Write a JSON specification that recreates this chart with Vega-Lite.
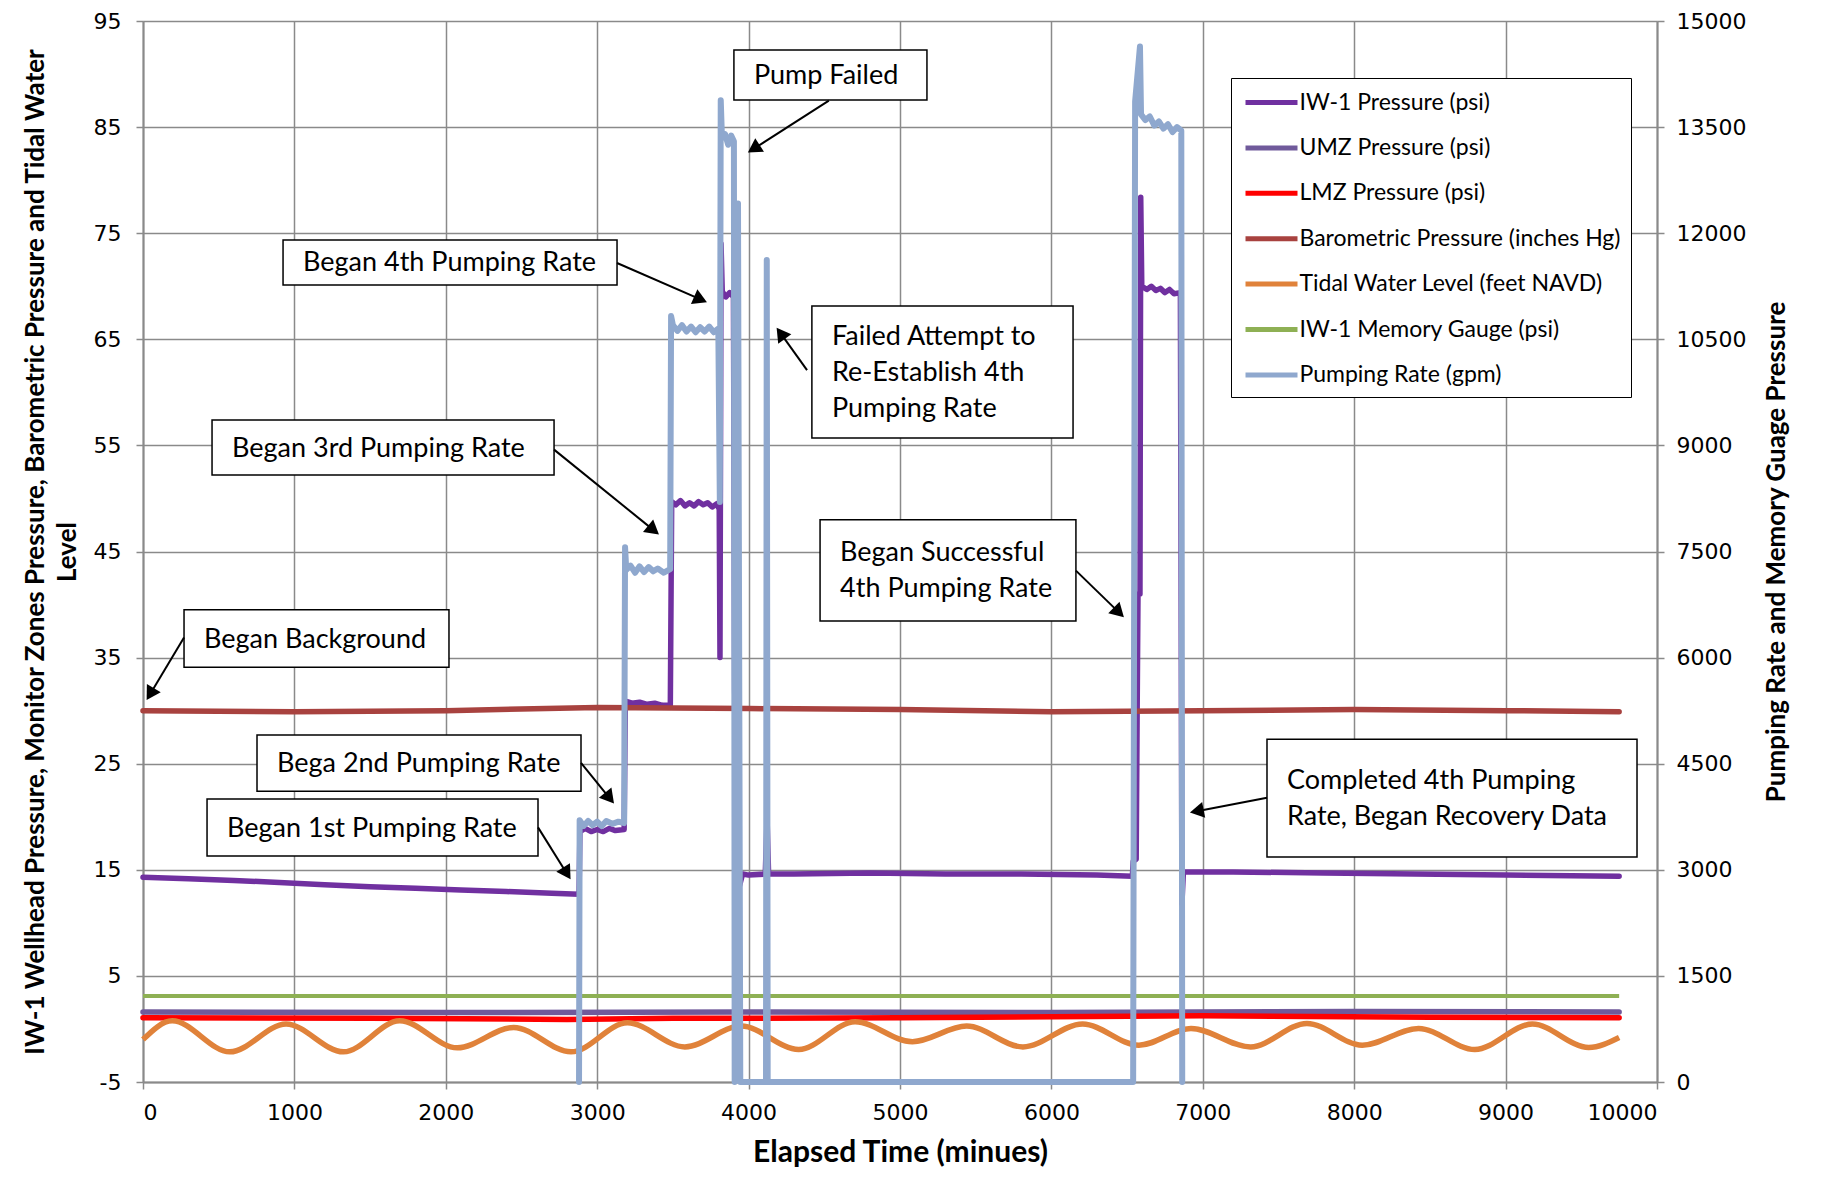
{
  "$schema": "https://vega.github.io/schema/vega-lite/v6.json",
  "width": 1514,
  "height": 1061,
  "autosize": {"type": "none"},
  "padding": {"left": 143, "top": 21, "right": 169, "bottom": 102},
  "background": "white",
  "config": {
    "view": {"stroke": null},
    "axis": {
      "gridColor": "#8a8a8a", "gridWidth": 1.5, "gridOpacity": 1,
      "domainColor": "#8a8a8a", "domainWidth": 2,
      "tickColor": "#8a8a8a", "tickSize": 7, "tickWidth": 1.5,
      "labelFont": "DejaVu Sans", "labelFontSize": 22, "labelColor": "black",
      "titleFont": "Lato", "titleFontWeight": "bold", "titleColor": "black"
    },
    "legend": {
      "orient": "none", "legendX": 1088, "legendY": 57,
      "title": null,
      "symbolType": "M-0.833,0L3.5,0", "symbolSize": 576, "symbolStrokeWidth": 5,
      "labelFont": "Lato", "labelFontSize": 23, "labelColor": "black", "labelOffset": 29.5, "labelLimit": 500,
      "rowPadding": 18.4, "padding": 10,
      "strokeColor": "black", "fillColor": "white"
    }
  },
  "datasets": {
    "left": [
      {"s": "IW-1 Pressure (psi)", "t": 0, "v": 14.3},
      {"s": "IW-1 Pressure (psi)", "t": 300, "v": 14.15},
      {"s": "IW-1 Pressure (psi)", "t": 600, "v": 14.0},
      {"s": "IW-1 Pressure (psi)", "t": 900, "v": 13.8},
      {"s": "IW-1 Pressure (psi)", "t": 1200, "v": 13.6},
      {"s": "IW-1 Pressure (psi)", "t": 1500, "v": 13.4},
      {"s": "IW-1 Pressure (psi)", "t": 1800, "v": 13.25},
      {"s": "IW-1 Pressure (psi)", "t": 2100, "v": 13.1},
      {"s": "IW-1 Pressure (psi)", "t": 2400, "v": 12.95},
      {"s": "IW-1 Pressure (psi)", "t": 2700, "v": 12.8},
      {"s": "IW-1 Pressure (psi)", "t": 2880, "v": 12.7},
      {"s": "IW-1 Pressure (psi)", "t": 2886, "v": 18.6},
      {"s": "IW-1 Pressure (psi)", "t": 2920, "v": 18.9},
      {"s": "IW-1 Pressure (psi)", "t": 2960, "v": 18.6},
      {"s": "IW-1 Pressure (psi)", "t": 3000, "v": 18.8},
      {"s": "IW-1 Pressure (psi)", "t": 3040, "v": 18.6},
      {"s": "IW-1 Pressure (psi)", "t": 3080, "v": 18.9},
      {"s": "IW-1 Pressure (psi)", "t": 3120, "v": 18.7},
      {"s": "IW-1 Pressure (psi)", "t": 3178, "v": 18.8},
      {"s": "IW-1 Pressure (psi)", "t": 3186, "v": 30.9},
      {"s": "IW-1 Pressure (psi)", "t": 3230, "v": 30.7},
      {"s": "IW-1 Pressure (psi)", "t": 3280, "v": 30.8},
      {"s": "IW-1 Pressure (psi)", "t": 3330, "v": 30.6},
      {"s": "IW-1 Pressure (psi)", "t": 3380, "v": 30.7},
      {"s": "IW-1 Pressure (psi)", "t": 3430, "v": 30.5},
      {"s": "IW-1 Pressure (psi)", "t": 3483, "v": 30.5},
      {"s": "IW-1 Pressure (psi)", "t": 3492, "v": 49.7},
      {"s": "IW-1 Pressure (psi)", "t": 3520, "v": 49.4},
      {"s": "IW-1 Pressure (psi)", "t": 3550, "v": 49.8},
      {"s": "IW-1 Pressure (psi)", "t": 3580, "v": 49.3},
      {"s": "IW-1 Pressure (psi)", "t": 3610, "v": 49.6},
      {"s": "IW-1 Pressure (psi)", "t": 3640, "v": 49.3},
      {"s": "IW-1 Pressure (psi)", "t": 3670, "v": 49.7},
      {"s": "IW-1 Pressure (psi)", "t": 3700, "v": 49.4},
      {"s": "IW-1 Pressure (psi)", "t": 3730, "v": 49.6},
      {"s": "IW-1 Pressure (psi)", "t": 3760, "v": 49.2},
      {"s": "IW-1 Pressure (psi)", "t": 3790, "v": 49.5},
      {"s": "IW-1 Pressure (psi)", "t": 3806, "v": 49.0},
      {"s": "IW-1 Pressure (psi)", "t": 3811, "v": 35.0},
      {"s": "IW-1 Pressure (psi)", "t": 3818, "v": 74.0},
      {"s": "IW-1 Pressure (psi)", "t": 3826, "v": 69.5},
      {"s": "IW-1 Pressure (psi)", "t": 3850, "v": 69.0},
      {"s": "IW-1 Pressure (psi)", "t": 3875, "v": 69.4},
      {"s": "IW-1 Pressure (psi)", "t": 3900, "v": 69.0},
      {"s": "IW-1 Pressure (psi)", "t": 3908, "v": 32.0},
      {"s": "IW-1 Pressure (psi)", "t": 3916, "v": 24.4},
      {"s": "IW-1 Pressure (psi)", "t": 3928, "v": 20.9},
      {"s": "IW-1 Pressure (psi)", "t": 3940, "v": 13.5},
      {"s": "IW-1 Pressure (psi)", "t": 3960, "v": 14.6},
      {"s": "IW-1 Pressure (psi)", "t": 4000, "v": 14.5},
      {"s": "IW-1 Pressure (psi)", "t": 4110, "v": 14.6},
      {"s": "IW-1 Pressure (psi)", "t": 4122, "v": 19.8},
      {"s": "IW-1 Pressure (psi)", "t": 4132, "v": 14.6},
      {"s": "IW-1 Pressure (psi)", "t": 4300, "v": 14.6},
      {"s": "IW-1 Pressure (psi)", "t": 4800, "v": 14.7},
      {"s": "IW-1 Pressure (psi)", "t": 5300, "v": 14.6},
      {"s": "IW-1 Pressure (psi)", "t": 5800, "v": 14.6},
      {"s": "IW-1 Pressure (psi)", "t": 6300, "v": 14.5},
      {"s": "IW-1 Pressure (psi)", "t": 6535, "v": 14.4},
      {"s": "IW-1 Pressure (psi)", "t": 6540, "v": 15.8},
      {"s": "IW-1 Pressure (psi)", "t": 6560, "v": 16.0},
      {"s": "IW-1 Pressure (psi)", "t": 6566, "v": 29.0},
      {"s": "IW-1 Pressure (psi)", "t": 6572, "v": 41.0},
      {"s": "IW-1 Pressure (psi)", "t": 6585, "v": 41.0},
      {"s": "IW-1 Pressure (psi)", "t": 6590, "v": 78.4},
      {"s": "IW-1 Pressure (psi)", "t": 6597, "v": 70.0},
      {"s": "IW-1 Pressure (psi)", "t": 6630, "v": 69.7},
      {"s": "IW-1 Pressure (psi)", "t": 6660, "v": 70.0},
      {"s": "IW-1 Pressure (psi)", "t": 6690, "v": 69.6},
      {"s": "IW-1 Pressure (psi)", "t": 6720, "v": 69.8},
      {"s": "IW-1 Pressure (psi)", "t": 6750, "v": 69.4},
      {"s": "IW-1 Pressure (psi)", "t": 6780, "v": 69.7},
      {"s": "IW-1 Pressure (psi)", "t": 6810, "v": 69.3},
      {"s": "IW-1 Pressure (psi)", "t": 6852, "v": 69.4},
      {"s": "IW-1 Pressure (psi)", "t": 6862, "v": 11.8},
      {"s": "IW-1 Pressure (psi)", "t": 6872, "v": 14.8},
      {"s": "IW-1 Pressure (psi)", "t": 7200, "v": 14.8},
      {"s": "IW-1 Pressure (psi)", "t": 7800, "v": 14.7},
      {"s": "IW-1 Pressure (psi)", "t": 8400, "v": 14.6},
      {"s": "IW-1 Pressure (psi)", "t": 9000, "v": 14.5},
      {"s": "IW-1 Pressure (psi)", "t": 9750, "v": 14.4},
      {"s": "UMZ Pressure (psi)", "t": 0, "v": 1.6},
      {"s": "UMZ Pressure (psi)", "t": 2000, "v": 1.55},
      {"s": "UMZ Pressure (psi)", "t": 4000, "v": 1.6},
      {"s": "UMZ Pressure (psi)", "t": 6000, "v": 1.55},
      {"s": "UMZ Pressure (psi)", "t": 8000, "v": 1.65},
      {"s": "UMZ Pressure (psi)", "t": 9750, "v": 1.6},
      {"s": "LMZ Pressure (psi)", "t": 0, "v": 1.05},
      {"s": "LMZ Pressure (psi)", "t": 1500, "v": 1.0},
      {"s": "LMZ Pressure (psi)", "t": 2800, "v": 0.9},
      {"s": "LMZ Pressure (psi)", "t": 3500, "v": 1.0},
      {"s": "LMZ Pressure (psi)", "t": 5000, "v": 1.05},
      {"s": "LMZ Pressure (psi)", "t": 7000, "v": 1.25},
      {"s": "LMZ Pressure (psi)", "t": 8500, "v": 1.1},
      {"s": "LMZ Pressure (psi)", "t": 9750, "v": 1.05},
      {"s": "Barometric Pressure (inches Hg)", "t": 0, "v": 30.0},
      {"s": "Barometric Pressure (inches Hg)", "t": 1000, "v": 29.9},
      {"s": "Barometric Pressure (inches Hg)", "t": 2000, "v": 30.0},
      {"s": "Barometric Pressure (inches Hg)", "t": 3000, "v": 30.3},
      {"s": "Barometric Pressure (inches Hg)", "t": 4000, "v": 30.2},
      {"s": "Barometric Pressure (inches Hg)", "t": 5000, "v": 30.1},
      {"s": "Barometric Pressure (inches Hg)", "t": 6000, "v": 29.9},
      {"s": "Barometric Pressure (inches Hg)", "t": 7000, "v": 30.0},
      {"s": "Barometric Pressure (inches Hg)", "t": 8000, "v": 30.1},
      {"s": "Barometric Pressure (inches Hg)", "t": 9000, "v": 30.0},
      {"s": "Barometric Pressure (inches Hg)", "t": 9750, "v": 29.9}
    ],
    "tidal": [
      {"s": "\u00a0Tidal Water Level (feet NAVD)", "t": 0, "v": -1.0},
      {"s": "\u00a0Tidal Water Level (feet NAVD)", "t": 193, "v": 0.77},
      {"s": "\u00a0Tidal Water Level (feet NAVD)", "t": 573, "v": -2.16},
      {"s": "\u00a0Tidal Water Level (feet NAVD)", "t": 945, "v": 0.46},
      {"s": "\u00a0Tidal Water Level (feet NAVD)", "t": 1324, "v": -2.16},
      {"s": "\u00a0Tidal Water Level (feet NAVD)", "t": 1696, "v": 0.77},
      {"s": "\u00a0Tidal Water Level (feet NAVD)", "t": 2076, "v": -1.78},
      {"s": "\u00a0Tidal Water Level (feet NAVD)", "t": 2448, "v": 0.14},
      {"s": "\u00a0Tidal Water Level (feet NAVD)", "t": 2827, "v": -2.16},
      {"s": "\u00a0Tidal Water Level (feet NAVD)", "t": 3200, "v": 0.58},
      {"s": "\u00a0Tidal Water Level (feet NAVD)", "t": 3579, "v": -1.69},
      {"s": "\u00a0Tidal Water Level (feet NAVD)", "t": 3951, "v": 0.27},
      {"s": "\u00a0Tidal Water Level (feet NAVD)", "t": 4331, "v": -1.94},
      {"s": "\u00a0Tidal Water Level (feet NAVD)", "t": 4703, "v": 0.68},
      {"s": "\u00a0Tidal Water Level (feet NAVD)", "t": 5082, "v": -1.2},
      {"s": "\u00a0Tidal Water Level (feet NAVD)", "t": 5440, "v": 0.27},
      {"s": "\u00a0Tidal Water Level (feet NAVD)", "t": 5812, "v": -1.69},
      {"s": "\u00a0Tidal Water Level (feet NAVD)", "t": 6206, "v": 0.46},
      {"s": "\u00a0Tidal Water Level (feet NAVD)", "t": 6578, "v": -1.53},
      {"s": "\u00a0Tidal Water Level (feet NAVD)", "t": 6922, "v": 0.05},
      {"s": "\u00a0Tidal Water Level (feet NAVD)", "t": 7316, "v": -1.69},
      {"s": "\u00a0Tidal Water Level (feet NAVD)", "t": 7688, "v": 0.52},
      {"s": "\u00a0Tidal Water Level (feet NAVD)", "t": 8053, "v": -1.53},
      {"s": "\u00a0Tidal Water Level (feet NAVD)", "t": 8425, "v": 0.05},
      {"s": "\u00a0Tidal Water Level (feet NAVD)", "t": 8797, "v": -1.94},
      {"s": "\u00a0Tidal Water Level (feet NAVD)", "t": 9177, "v": 0.46},
      {"s": "\u00a0Tidal Water Level (feet NAVD)", "t": 9549, "v": -1.75},
      {"s": "\u00a0Tidal Water Level (feet NAVD)", "t": 9750, "v": -0.8}
    ],
    "memory": [
      {"s": "IW-1 Memory Gauge (psi)", "t": 0, "v": 3.1},
      {"s": "IW-1 Memory Gauge (psi)", "t": 9750, "v": 3.1}
    ],
    "pump": [
      {"s": "Pumping Rate (gpm)", "t": 2880, "q": 0},
      {"s": "Pumping Rate (gpm)", "t": 2884, "q": 3700},
      {"s": "Pumping Rate (gpm)", "t": 2910, "q": 3620},
      {"s": "Pumping Rate (gpm)", "t": 2940, "q": 3690},
      {"s": "Pumping Rate (gpm)", "t": 2970, "q": 3630},
      {"s": "Pumping Rate (gpm)", "t": 3000, "q": 3680},
      {"s": "Pumping Rate (gpm)", "t": 3030, "q": 3620},
      {"s": "Pumping Rate (gpm)", "t": 3060, "q": 3690},
      {"s": "Pumping Rate (gpm)", "t": 3100, "q": 3650},
      {"s": "Pumping Rate (gpm)", "t": 3140, "q": 3680},
      {"s": "Pumping Rate (gpm)", "t": 3178, "q": 3660},
      {"s": "Pumping Rate (gpm)", "t": 3184, "q": 7560},
      {"s": "Pumping Rate (gpm)", "t": 3192, "q": 7240},
      {"s": "Pumping Rate (gpm)", "t": 3220, "q": 7300},
      {"s": "Pumping Rate (gpm)", "t": 3250, "q": 7200},
      {"s": "Pumping Rate (gpm)", "t": 3280, "q": 7290},
      {"s": "Pumping Rate (gpm)", "t": 3310, "q": 7210},
      {"s": "Pumping Rate (gpm)", "t": 3340, "q": 7280},
      {"s": "Pumping Rate (gpm)", "t": 3370, "q": 7220},
      {"s": "Pumping Rate (gpm)", "t": 3400, "q": 7260},
      {"s": "Pumping Rate (gpm)", "t": 3440, "q": 7200},
      {"s": "Pumping Rate (gpm)", "t": 3482, "q": 7250},
      {"s": "Pumping Rate (gpm)", "t": 3488, "q": 10830},
      {"s": "Pumping Rate (gpm)", "t": 3500, "q": 10700},
      {"s": "Pumping Rate (gpm)", "t": 3530, "q": 10620},
      {"s": "Pumping Rate (gpm)", "t": 3560, "q": 10700},
      {"s": "Pumping Rate (gpm)", "t": 3590, "q": 10610},
      {"s": "Pumping Rate (gpm)", "t": 3620, "q": 10680},
      {"s": "Pumping Rate (gpm)", "t": 3650, "q": 10600},
      {"s": "Pumping Rate (gpm)", "t": 3680, "q": 10670},
      {"s": "Pumping Rate (gpm)", "t": 3710, "q": 10610},
      {"s": "Pumping Rate (gpm)", "t": 3740, "q": 10680},
      {"s": "Pumping Rate (gpm)", "t": 3770, "q": 10600},
      {"s": "Pumping Rate (gpm)", "t": 3800, "q": 10650},
      {"s": "Pumping Rate (gpm)", "t": 3810, "q": 8200},
      {"s": "Pumping Rate (gpm)", "t": 3816, "q": 13880},
      {"s": "Pumping Rate (gpm)", "t": 3824, "q": 13350},
      {"s": "Pumping Rate (gpm)", "t": 3845, "q": 13400},
      {"s": "Pumping Rate (gpm)", "t": 3865, "q": 13250},
      {"s": "Pumping Rate (gpm)", "t": 3885, "q": 13380},
      {"s": "Pumping Rate (gpm)", "t": 3903, "q": 13300},
      {"s": "Pumping Rate (gpm)", "t": 3908, "q": 0},
      {"s": "Pumping Rate (gpm)", "t": 3930, "q": 12420},
      {"s": "Pumping Rate (gpm)", "t": 3945, "q": 0},
      {"s": "Pumping Rate (gpm)", "t": 4115, "q": 0},
      {"s": "Pumping Rate (gpm)", "t": 4120, "q": 11620},
      {"s": "Pumping Rate (gpm)", "t": 4126, "q": 0},
      {"s": "Pumping Rate (gpm)", "t": 6540, "q": 0},
      {"s": "Pumping Rate (gpm)", "t": 6553, "q": 13860},
      {"s": "Pumping Rate (gpm)", "t": 6585, "q": 14640},
      {"s": "Pumping Rate (gpm)", "t": 6592, "q": 13680},
      {"s": "Pumping Rate (gpm)", "t": 6620, "q": 13600},
      {"s": "Pumping Rate (gpm)", "t": 6650, "q": 13650},
      {"s": "Pumping Rate (gpm)", "t": 6680, "q": 13520},
      {"s": "Pumping Rate (gpm)", "t": 6710, "q": 13580},
      {"s": "Pumping Rate (gpm)", "t": 6740, "q": 13480},
      {"s": "Pumping Rate (gpm)", "t": 6770, "q": 13540},
      {"s": "Pumping Rate (gpm)", "t": 6800, "q": 13430},
      {"s": "Pumping Rate (gpm)", "t": 6830, "q": 13500},
      {"s": "Pumping Rate (gpm)", "t": 6858, "q": 13450},
      {"s": "Pumping Rate (gpm)", "t": 6864, "q": 0}
    ],
    "boxes": [
      {"label": "Pump Failed", "t1": 3903, "t2": 5178, "v1": 92.27, "v2": 87.55},
      {"label": "Began 4th Pumping Rate", "t1": 925, "t2": 3131, "v1": 74.36, "v2": 70.12},
      {"label": "Failed Attempt to|Re-Establish 4th|Pumping Rate", "t1": 4418, "t2": 6143, "v1": 68.14, "v2": 55.7},
      {"label": "Began 3rd Pumping Rate", "t1": 456, "t2": 2715, "v1": 57.4, "v2": 52.2},
      {"label": "Began Successful|4th Pumping Rate", "t1": 4472, "t2": 6162, "v1": 48.0, "v2": 38.45},
      {"label": "Began Background", "t1": 271, "t2": 2021, "v1": 39.5, "v2": 34.1},
      {"label": "Bega 2nd Pumping Rate", "t1": 753, "t2": 2893, "v1": 27.7, "v2": 22.4},
      {"label": "Began 1st Pumping Rate", "t1": 423, "t2": 2609, "v1": 21.67, "v2": 16.3},
      {"label": "Completed 4th Pumping|Rate, Began Recovery Data", "t1": 7424, "t2": 9868, "v1": 27.3, "v2": 16.2}
    ],
    "arrows": [
      {"t1": 4530, "v1": 87.5, "t2": 3995, "v2": 82.6},
      {"t1": 3131, "v1": 72.19, "t2": 3725, "v2": 68.5},
      {"t1": 4386, "v1": 62.1, "t2": 4185, "v2": 66.1},
      {"t1": 2715, "v1": 54.6, "t2": 3408, "v2": 46.6},
      {"t1": 6162, "v1": 43.2, "t2": 6479, "v2": 38.8},
      {"t1": 271, "v1": 36.9, "t2": 24, "v2": 31.0},
      {"t1": 2893, "v1": 25.07, "t2": 3111, "v2": 21.25},
      {"t1": 2609, "v1": 19.0, "t2": 2824, "v2": 14.1},
      {"t1": 7424, "v1": 21.8, "t2": 6915, "v2": 20.4}
    ]
  },
  "layer": [
    {
      "layer": [
        {
          "data": {"name": "left"},
          "mark": {"type": "line", "strokeWidth": 5.5, "strokeCap": "round", "strokeJoin": "round"},
          "encoding": {
            "x": {"field": "t", "type": "quantitative", "scale": {"domain": [0, 10000], "nice": false},
              "title": "Elapsed Time (minues)",
              "axis": {"values": [0, 1000, 2000, 3000, 4000, 5000, 6000, 7000, 8000, 9000, 10000], "format": "d", "grid": true, "labelPadding": 13, "titleFontSize": 30, "titlePadding": 14}},
            "y": {"field": "v", "type": "quantitative", "scale": {"domain": [-5, 95], "nice": false, "zero": false},
              "title": ["IW-1 Wellhead Pressure, Monitor Zones Pressure, Barometric Pressure and Tidal Water", "Level"],
              "axis": {"orient": "left", "values": [-5, 5, 15, 25, 35, 45, 55, 65, 75, 85, 95], "labelExpr": "'' + datum.value", "grid": true, "labelPadding": 15, "titleFontSize": 26, "titleLineHeight": 32, "titlePadding": 13}},
            "color": {"field": "s", "type": "nominal",
              "scale": {"domain": ["IW-1 Pressure (psi)", "UMZ Pressure (psi)", "LMZ Pressure (psi)", "Barometric Pressure (inches Hg)", "\u00a0Tidal Water Level (feet NAVD)", "IW-1 Memory Gauge (psi)", "Pumping Rate (gpm)"],
                "range": ["#7030A0", "#705A9B", "#FF0000", "#A8423F", "#E0823A", "#8EB054", "#8FA8CE"]}},
            "order": {"field": "t", "type": "quantitative"}
          }
        },
        {
          "data": {"name": "tidal"},
          "mark": {"type": "line", "strokeWidth": 5.5, "interpolate": "monotone"},
          "encoding": {
            "x": {"field": "t", "type": "quantitative", "title": "Elapsed Time (minues)"},
            "y": {"field": "v", "type": "quantitative", "title": ["IW-1 Wellhead Pressure, Monitor Zones Pressure, Barometric Pressure and Tidal Water", "Level"]},
            "color": {"field": "s", "type": "nominal"}
          }
        },
        {
          "data": {"name": "memory"},
          "mark": {"type": "line", "strokeWidth": 4},
          "encoding": {
            "x": {"field": "t", "type": "quantitative", "title": "Elapsed Time (minues)"},
            "y": {"field": "v", "type": "quantitative", "title": ["IW-1 Wellhead Pressure, Monitor Zones Pressure, Barometric Pressure and Tidal Water", "Level"]},
            "color": {"field": "s", "type": "nominal"}
          }
        }
      ]
    },
    {
      "data": {"name": "pump"},
      "mark": {"type": "line", "strokeWidth": 6, "strokeCap": "round", "strokeJoin": "round"},
      "encoding": {
        "x": {"field": "t", "type": "quantitative", "title": "Elapsed Time (minues)"},
        "y": {"field": "q", "type": "quantitative", "scale": {"domain": [0, 15000], "nice": false},
          "title": "Pumping Rate and Memory Guage Pressure",
          "axis": {"orient": "right", "values": [0, 1500, 3000, 4500, 6000, 7500, 9000, 10500, 12000, 13500, 15000], "format": "d", "grid": false, "labelPadding": 12, "titleFontSize": 26, "titleAngle": 270, "titleBaseline": "top", "titlePadding": 18}},
        "color": {"field": "s", "type": "nominal"},
        "order": {"field": "t", "type": "quantitative"}
      }
    },
    {
      "layer": [
        {
          "data": {"name": "boxes"},
          "mark": {"type": "rect", "fill": "white", "stroke": "black", "strokeWidth": 1.5},
          "encoding": {
            "x": {"field": "t1", "type": "quantitative", "title": "Elapsed Time (minues)"},
            "x2": {"field": "t2"},
            "y": {"field": "v1", "type": "quantitative", "scale": {"domain": [-5, 95], "nice": false, "zero": false}, "axis": null},
            "y2": {"field": "v2"}
          }
        },
        {
          "data": {"name": "boxes"},
          "transform": [
            {"calculate": "length(split(datum.label, '|'))", "as": "nl"},
            {"calculate": "(datum.v1 + datum.v2) / 2 + (datum.nl - 1) / 2 * 36 / 10.61", "as": "vm"}
          ],
          "mark": {"type": "text", "align": "left", "baseline": "middle", "dx": 20, "dy": 1, "font": "Lato", "fontSize": 27, "lineHeight": 36, "lineBreak": "|", "color": "black"},
          "encoding": {
            "x": {"field": "t1", "type": "quantitative", "title": "Elapsed Time (minues)"},
            "y": {"field": "vm", "type": "quantitative", "axis": null},
            "text": {"field": "label", "type": "nominal"}
          }
        },
        {
          "data": {"name": "arrows"},
          "transform": [
            {"calculate": "(datum.t2 - datum.t1) * 0.1514", "as": "dxp"},
            {"calculate": "(datum.v1 - datum.v2) * 10.61", "as": "dyp"},
            {"calculate": "sqrt(datum.dxp * datum.dxp + datum.dyp * datum.dyp)", "as": "len"},
            {"calculate": "datum.t2 - datum.dxp / datum.len * 7 / 0.1514", "as": "tc"},
            {"calculate": "datum.v2 + datum.dyp / datum.len * 7 / 10.61", "as": "vc"}
          ],
          "mark": {"type": "rule", "color": "black", "strokeWidth": 2},
          "encoding": {
            "x": {"field": "t1", "type": "quantitative", "title": "Elapsed Time (minues)"},
            "y": {"field": "v1", "type": "quantitative", "axis": null},
            "x2": {"field": "tc"},
            "y2": {"field": "vc"}
          }
        },
        {
          "data": {"name": "arrows"},
          "transform": [
            {"calculate": "(datum.t2 - datum.t1) * 0.1514", "as": "dxp"},
            {"calculate": "(datum.v1 - datum.v2) * 10.61", "as": "dyp"},
            {"calculate": "sqrt(datum.dxp * datum.dxp + datum.dyp * datum.dyp)", "as": "len"},
            {"calculate": "datum.t2 - datum.dxp / datum.len * 7 / 0.1514", "as": "tc"},
            {"calculate": "datum.v2 + datum.dyp / datum.len * 7 / 10.61", "as": "vc"},
            {"calculate": "atan2(datum.dxp, -datum.dyp) * 180 / PI", "as": "ang"}
          ],
          "mark": {"type": "point", "shape": "triangle-up", "filled": true, "color": "black", "opacity": 1, "size": 260},
          "encoding": {
            "x": {"field": "tc", "type": "quantitative", "title": "Elapsed Time (minues)"},
            "y": {"field": "vc", "type": "quantitative", "axis": null},
            "angle": {"field": "ang", "type": "quantitative", "scale": null}
          }
        }
      ]
    }
  ],
  "resolve": {"scale": {"y": "independent"}}
}
